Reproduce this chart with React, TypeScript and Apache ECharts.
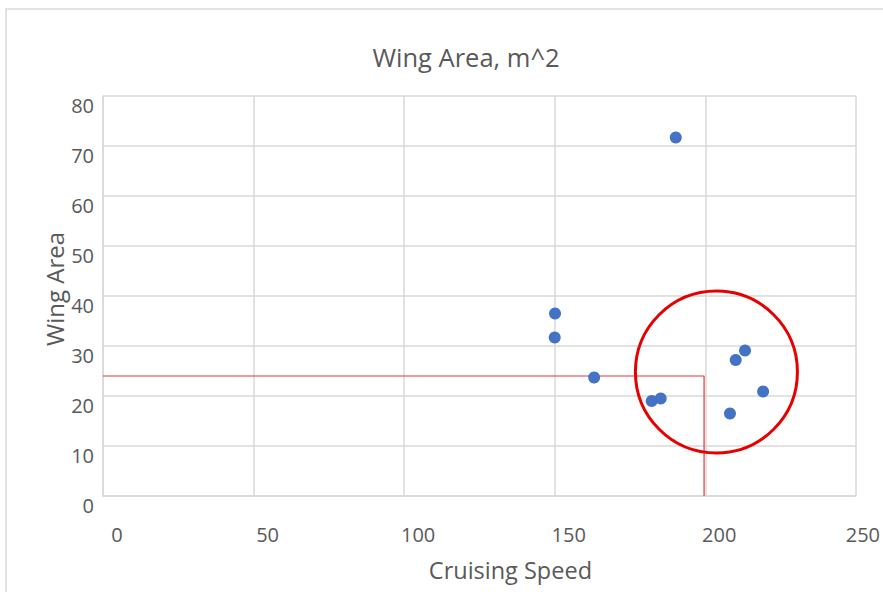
import React, { useEffect, useRef } from "react";
import * as echarts from "echarts";

// Cruising speed vs. wing area of the sampled aircraft
const cruisingSpeed = [190.2, 150.1, 150.0, 163.1, 182.2, 185.2, 208.2, 210.1, 213.2, 219.2];
const wingArea = [71.7, 36.5, 31.7, 23.7, 19.0, 19.5, 16.5, 27.2, 29.1, 20.9];

// Reference guide: target speed / area corner
const guideSpeed = 199.6;
const guideArea = 24;

// Highlighted cluster (centre and radii in data units)
const clusterCenter = [203.7, 24.8];
const clusterRadius = [26.9, 16.2];

const xTicks = [0, 50, 100, 150, 200, 250];
const yTicks = [0, 10, 20, 30, 40, 50, 60, 70, 80];

const FONT = "'Open Sans', 'Noto Sans', sans-serif";
const TEXT = "#595959";
const GRID = "#d9d9d9";
const TICK_SIZE = 20;

export default function App() {
  const ref = useRef<HTMLDivElement>(null);

  useEffect(() => {
    if (!ref.current) return;
    const chart = echarts.init(ref.current, undefined, { renderer: "svg" });
    const points = cruisingSpeed.map((s, i) => [s, wingArea[i]]);
    const lastX = xTicks[xTicks.length - 1];

    chart.setOption({
      animation: false,
      backgroundColor: "#ffffff",
      textStyle: { fontFamily: FONT },
      graphic: [
        {
          type: "rect",
          shape: { x: 6, y: 9, width: 900, height: 600 },
          style: { fill: "none", stroke: GRID, lineWidth: 1.5 },
          z: 0,
        },
        {
          type: "text",
          x: 466,
          y: 57,
          style: {
            text: "Wing Area, m^2",
            fontFamily: FONT,
            fontSize: 25.5,
            fill: TEXT,
            textAlign: "center",
            textVerticalAlign: "middle",
          },
        },
      ],
      grid: { left: 103, right: 26, top: 96, bottom: 96, containLabel: false },
      xAxis: {
        type: "value",
        min: 0,
        max: 250,
        interval: 50,
        name: "Cruising Speed",
        nameLocation: "middle",
        nameGap: 62,
        nameMoveOverlap: false,
        nameTextStyle: { fontFamily: FONT, fontSize: 23.5, color: TEXT, padding: [0, 0, 0, 62] },
        axisLine: { show: true, lineStyle: { color: GRID, width: 1.5 } },
        axisTick: { show: false },
        splitLine: { show: true, lineStyle: { color: GRID, width: 1.5 } },
        axisLabel: {
          margin: 28,
          fontFamily: FONT,
          fontSize: TICK_SIZE,
          color: TEXT,
          formatter: (v: number) => (v === lastX ? `{e|${v}}` : `{n|${v}}`),
          rich: {
            n: { fontFamily: FONT, fontSize: TICK_SIZE, color: TEXT, padding: [0, 0, 0, 28] },
            e: { fontFamily: FONT, fontSize: TICK_SIZE, color: TEXT, padding: [0, 0, 0, 14] },
          },
        },
      },
      yAxis: {
        type: "value",
        min: 0,
        max: 80,
        interval: 10,
        name: "Wing Area",
        nameLocation: "middle",
        nameGap: 37,
        nameMoveOverlap: false,
        nameTextStyle: { fontFamily: FONT, fontSize: 24, color: TEXT, padding: [0, 0, 0, 14] },
        axisLine: { show: true, lineStyle: { color: GRID, width: 1.5 } },
        axisTick: { show: false },
        splitLine: { show: true, lineStyle: { color: GRID, width: 1.5 } },
        axisLabel: {
          margin: 9,
          fontFamily: FONT,
          fontSize: TICK_SIZE,
          color: TEXT,
          formatter: (v: number) => (yTicks.includes(v) ? `{n|${v}}` : ""),
          rich: {
            n: { fontFamily: FONT, fontSize: TICK_SIZE, color: TEXT, padding: [18, 0, 0, 0] },
          },
        },
      },
      series: [
        {
          type: "line",
          data: [
            [0, guideArea],
            [guideSpeed, guideArea],
            [guideSpeed, 0],
          ],
          symbol: "none",
          lineStyle: { color: "#d83a3a", width: 1.2 },
          silent: true,
          z: 2,
        },
        {
          type: "scatter",
          data: points,
          symbol: "circle",
          symbolSize: 12,
          itemStyle: { color: "#4472c4", opacity: 1 },
          z: 3,
        },
        {
          type: "custom",
          data: [clusterCenter],
          silent: true,
          z: 4,
          renderItem: (_params: any, api: any) => {
            const c = api.coord([api.value(0), api.value(1)]);
            const size = api.size(clusterRadius);
            return {
              type: "ellipse",
              shape: { cx: c[0], cy: c[1], rx: size[0], ry: size[1] },
              style: { fill: "none", stroke: "#e60000", lineWidth: 3 },
            };
          },
        },
      ],
    });

    return () => chart.dispose();
  }, []);

  return (
    <div
      ref={ref}
      style={{ position: "fixed", left: 0, top: 0, width: 883, height: 592 }}
    />
  );
}
